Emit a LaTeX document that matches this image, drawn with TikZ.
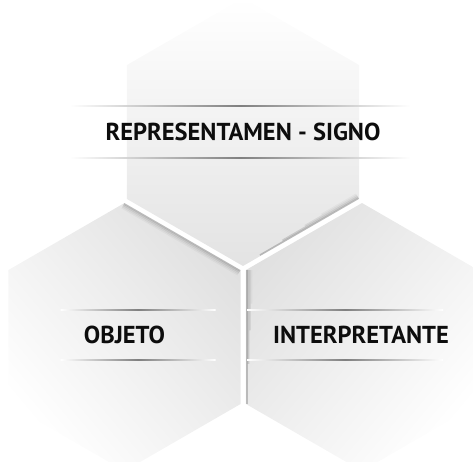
\documentclass[tikz,border=0pt]{standalone}
\usepackage{fontspec}
\setmainfont{PT Sans}
\usetikzlibrary{shapes.geometric,calc,positioning}

\tikzset{
  hexcell/.style={regular polygon, regular polygon sides=6, shape border rotate=30,
    minimum size=268pt, inner sep=0pt, outer sep=0pt},
  hextext/.style={font=\bfseries\fontsize{24.5}{24.5}\selectfont, text=black!95, inner sep=0pt},
  textrule/.style={left color=white, right color=white, middle color=black!50},
  seamshade/.style={draw=black, line width=1.6pt}
}

\begin{document}
\begin{tikzpicture}[x=1pt,y=-1pt]
    \useasboundingbox (0,0) rectangle (473,461);

    % the three cells
    \node[hexcell, top color=white, bottom color=black!11] (signo) at (243,132) {};
    \node[hexcell, top color=black!12, bottom color=white, shading angle=-50] (objeto) at (124.5,337) {};
    \node[hexcell, top color=black!12, bottom color=white, shading angle=50] (interp) at (362,337) {};

    % shadows along the seams
    \foreach \off/\op in {1/0.18,2.5/0.12,4/0.07,5.5/0.03}
        \draw[seamshade, draw opacity=\op] ($(objeto.90)+(-0.5*\off,0.866*\off)$) -- ($(objeto.30)+(-0.5*\off,0.866*\off)$);
    \foreach \off/\op/\f in {1/0.2/0.15,2.5/0.13/0.35,4/0.07/0.55,5.5/0.03/0.7}
        \draw[seamshade, draw opacity=\op] ($($(signo.270)!\f!(signo.330)$)+(-0.5*\off,-0.866*\off)$) -- ($(signo.330)+(-0.5*\off,-0.866*\off)$);
    \foreach \off/\op/\f in {1/0.2/1,2.5/0.13/0.7,4/0.07/0.45,5.5/0.03/0.25}
        \draw[seamshade, draw opacity=\op] ($(interp.150)+(\off,0)$) -- ($($(interp.150)!\f!(interp.210)$)+(\off,0)$);

    % labels
    \node[hextext] (sgtext) at (signo.center) {REPRESENTAMEN - SIGNO};
    \node[hextext] (objtext) at ($(objeto.center)+(0,-2)$) {OBJETO};
    \node[hextext] (inttext) at ($(interp.center)+(-1,-2)$) {INTERPRETANTE};

    % rules above and below the labels
    \shade[textrule] ($(sgtext.center)+(-173,-26.6)$) rectangle ($(sgtext.center)+(167,-25.4)$);
    \shade[textrule] ($(sgtext.center)+(-173,25.4)$) rectangle ($(sgtext.center)+(167,26.6)$);
    \shade[textrule] ($(objtext.center)+(-64,-25.6)$) rectangle ($(objtext.center)+(91,-24.4)$);
    \shade[textrule] ($(objtext.center)+(-64,24.4)$) rectangle ($(objtext.center)+(91,25.6)$);
    \shade[textrule] ($(inttext.center)+(-114,-25.6)$) rectangle ($(inttext.center)+(82,-24.4)$);
    \shade[textrule] ($(inttext.center)+(-114,24.4)$) rectangle ($(inttext.center)+(82,25.6)$);
\end{tikzpicture}
\end{document}
